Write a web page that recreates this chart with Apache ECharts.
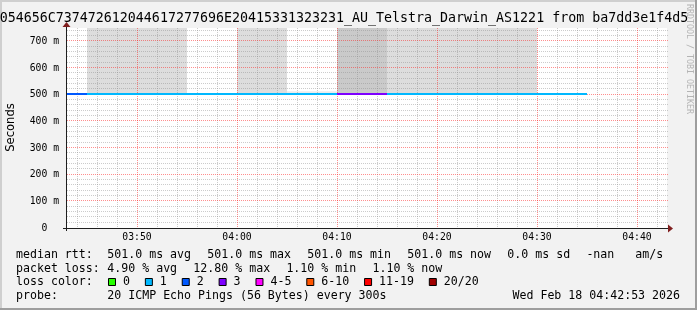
<!DOCTYPE html>
<html>
<head>
<meta charset="utf-8">
<script src="https://cdn.jsdelivr.net/npm/echarts@6/dist/echarts.min.js"></script>
<style>
  html, body { margin: 0; padding: 0; background: #f2f2f2; }
  #chart { width: 697px; height: 310px; }
</style>
</head>
<body>
<div id="chart"></div>
<script>
// 5 minute steps: start time, median rtt (ms), lost pings out of 20
const stepStarts = ['03:40', '03:45', '03:50', '03:55', '04:00', '04:05', '04:10', '04:15', '04:20', '04:25', '04:30']
const medianRtt = [501, 501, 501, 501, 501, 501, 501, 501, 501, 501, 501]
const lostPings = [2, 1, 1, 1, 1, 1, 3, 1, 1, 1, 1]

// smoke bands (ms) and how dense the pings are in them
const smokeFrom = ['03:45', '04:00', '04:05', '04:10', '04:15']
const smokeTo = ['03:55', '04:05', '04:10', '04:15', '04:30']
const smokeLow = [500, 500, 500, 500, 500]
const smokeHigh = [900, 900, 513, 900, 900]
const smokeDensity = [2, 2, 1, 3, 2]

const timeLabels = ['03:50', '04:00', '04:10', '04:20', '04:30', '04:40']

const rttStats = [501.0, 501.0, 501.0, 501.0]
const rttStatNames = ['avg', 'max', 'min', 'now']
const rttSd = 0.0
const lossStats = [4.90, 12.80, 1.10, 1.10]
const lossStatNames = ['avg', 'max', 'min', 'now']
const lossLegend = ['0', '1', '2', '3', '4-5', '6-10', '11-19', '20/20']
const probeText = '20 ICMP Echo Pings (56 Bytes) every 300s'
const stampText = 'Wed Feb 18 04:42:53 2026'
const titleText = '054656C737472612044617277696E20415331323231_AU_Telstra_Darwin_AS1221 from ba7dd3e1f4d5'

const lossColors = ['#26ff00', '#00b8ff', '#0059ff', '#7e00ff', '#ff00ff', '#ff5500', '#ff0000', '#a10000']
const smokeShades = ['#ffffff', '#ececec', '#dddddd', '#cacaca']
const gridColor = 'rgba(143,143,143,0.45)'
const mgridColor = 'rgba(255,30,30,0.5)'
const mono = '"DejaVu Sans Mono", monospace'

const toSec = (s) => {
  const [h, m] = s.split(':').map(Number)
  return h * 3600 + m * 60
}
// one hour, 6 s per pixel
const xMin = toSec('03:43')
const xMax = toSec('04:43')
const yMax = 750

const lossBucket = (n) => (n <= 3 ? n : n <= 5 ? 4 : n <= 10 ? 5 : n <= 19 ? 6 : 7)

const rttData = stepStarts.map((t, i) => [toSec(t), toSec(t) + 300, medianRtt[i], lostPings[i]])
const smokeData = smokeFrom.map((t, i) => [toSec(t), toSec(smokeTo[i]), smokeLow[i], smokeHigh[i], smokeDensity[i]])

// grid: every 2 minutes / 20 ms, red every 10 minutes / 100 ms
const gridLines = []
for (let t = toSec('03:44'); t < xMax; t += 120) gridLines.push({ dir: 'v', v: t, major: t % 600 === 0 })
for (let v = 20; v < yMax; v += 20) gridLines.push({ dir: 'h', v, major: v % 100 === 0 })
const minorLines = gridLines.filter((g) => !g.major)
const majorLines = gridLines.filter((g) => g.major)

const L = 67, T = 28, R = 667, B = 228

const gridSeries = (name, lines, color, z) => ({
  type: 'custom', name, z, silent: true,
  data: lines.map((g) => (g.dir === 'v' ? [g.v, 0] : [xMin, g.v])),
  renderItem: (params, api) => {
    const cs = params.coordSys
    const g = lines[params.dataIndex]
    const p = api.coord([api.value(0), api.value(1)])
    const style = { stroke: color, lineWidth: 1, lineDash: [1, 1] }
    if (g.dir === 'v') {
      const x = Math.round(p[0]) + 0.5
      return { type: 'line', shape: { x1: x, y1: cs.y, x2: x, y2: cs.y + cs.height }, style }
    }
    const y = Math.round(p[1]) - 0.5
    return { type: 'line', shape: { x1: cs.x, y1: y, x2: cs.x + cs.width + 1, y2: y }, style }
  }
})

const txt = (x, y, text, extra) => ({
  type: 'text', x, y, z: 100, silent: true,
  style: Object.assign({ text, fontSize: 11.6, fontFamily: mono, fill: '#000', align: 'left', verticalAlign: 'middle' }, extra || {})
})

const buildLegend = () => {
  const els = []
  const cw = 6.97, gap = 16.36
  const row = (y, label, items) => {
    els.push(txt(16, y, label))
    let x = 107.3
    items.forEach((s) => {
      els.push(txt(x, y, s))
      x += s.length * cw + gap
    })
  }
  row(254.5, 'median rtt:', [
    ...rttStats.map((v, i) => v.toFixed(1) + ' ms ' + rttStatNames[i]),
    rttSd.toFixed(1) + ' ms sd',
    '-nan   am/s'
  ])
  row(268.5, 'packet loss:', lossStats.map((v, i) => v.toFixed(2) + ' % ' + lossStatNames[i]))

  els.push(txt(16, 282.3, 'loss color:'))
  let x = 108.5
  lossLegend.forEach((s, i) => {
    els.push({
      type: 'rect', z: 100, silent: true,
      shape: { x, y: 278.5, width: 7, height: 7 },
      style: { fill: lossColors[i], stroke: '#000', lineWidth: 1 }
    })
    els.push(txt(x + 14.5, 282.3, s))
    x += 14.5 + s.length * cw + 15.4
  })

  els.push(txt(16, 296.3, 'probe:'))
  els.push(txt(107.3, 296.3, probeText))
  els.push(txt(680, 296.3, stampText, { align: 'right' }))
  return els
}

const chart = echarts.init(document.getElementById('chart'), null, { renderer: 'canvas' })

const seconds = txt(10.8, 127.5, 'Seconds', { fontFamily: '"DejaVu Sans", sans-serif', fontSize: 11.6, align: 'center' })
seconds.rotation = Math.PI / 2
const watermark = txt(689, 59, 'RRDTOOL / TOBI OETIKER', { fontSize: 8.3, fill: '#b4b4b4', align: 'center' })
watermark.rotation = -Math.PI / 2

const option = {
  animation: false,
  backgroundColor: '#f2f2f2',
  grid: { left: L, top: T, right: 697 - R, bottom: 310 - B, show: true, backgroundColor: '#ffffff', borderWidth: 0 },
  xAxis: {
    type: 'value', min: xMin, max: xMax,
    axisLine: { show: false }, axisTick: { show: false }, splitLine: { show: false },
    axisLabel: {
      customValues: timeLabels.map(toSec),
      formatter: (v) => {
        const h = Math.floor(v / 3600), m = Math.floor((v % 3600) / 60)
        return String(h).padStart(2, '0') + ':' + String(m).padStart(2, '0')
      },
      fontFamily: mono, fontSize: 9.75, color: '#000', margin: 4
    }
  },
  yAxis: {
    type: 'value', min: 0, max: yMax, interval: 100,
    axisLine: { show: false }, axisTick: { show: false }, splitLine: { show: false },
    axisLabel: {
      formatter: (v) => (v === 0 ? '0  ' : v + ' m'),
      showMaxLabel: false,
      fontFamily: mono, fontSize: 9.75, color: '#000', margin: 8
    }
  },
  series: [
    {
      type: 'custom', name: 'smoke', z: 2, silent: true,
      encode: { x: [0, 1], y: [2, 3] },
      data: smokeData,
      renderItem: (params, api) => {
        const cs = params.coordSys
        const p1 = api.coord([api.value(0), api.value(3)])
        const p2 = api.coord([api.value(1), api.value(2)])
        const x1 = Math.round(p1[0]), x2 = Math.round(p2[0])
        const rect = echarts.graphic.clipRectByRect(
          { x: x1, y: p1[1], width: x2 - x1, height: p2[1] - p1[1] },
          { x: cs.x, y: cs.y, width: cs.width, height: cs.height }
        )
        return rect && { type: 'rect', shape: rect, style: { fill: smokeShades[api.value(4)] } }
      }
    },
    gridSeries('grid', minorLines, gridColor, 3),
    gridSeries('mgrid', majorLines, mgridColor, 4),
    {
      type: 'custom', name: 'median rtt', z: 5, silent: true,
      encode: { x: [0, 1], y: 2 },
      data: rttData,
      renderItem: (params, api) => {
        const cs = params.coordSys
        const p1 = api.coord([api.value(0), api.value(2)])
        const p2 = api.coord([api.value(1), api.value(2)])
        const x1 = Math.max(cs.x, Math.round(p1[0]))
        const x2 = Math.min(cs.x + cs.width, Math.round(p2[0]))
        if (x2 <= x1) return null
        const y = Math.round(p1[1])
        return {
          type: 'line',
          shape: { x1, y1: y, x2, y2: y },
          style: { stroke: lossColors[lossBucket(api.value(3))], lineWidth: 2 }
        }
      }
    }
  ],
  graphic: [
    // frame
    { type: 'rect', z: 90, silent: true, shape: { x: 0, y: 0, width: 697, height: 2 }, style: { fill: '#cfcfcf' } },
    { type: 'rect', z: 90, silent: true, shape: { x: 0, y: 0, width: 2, height: 310 }, style: { fill: '#cfcfcf' } },
    { type: 'rect', z: 90, silent: true, shape: { x: 0, y: 308, width: 697, height: 2 }, style: { fill: '#9e9e9e' } },
    { type: 'rect', z: 90, silent: true, shape: { x: 695, y: 0, width: 2, height: 310 }, style: { fill: '#9e9e9e' } },
    // axes
    { type: 'line', z: 95, silent: true, shape: { x1: 63, y1: B + 0.5, x2: R + 2, y2: B + 0.5 }, style: { stroke: '#1f1f1f', lineWidth: 1 } },
    { type: 'line', z: 95, silent: true, shape: { x1: L - 0.5, y1: B + 3, x2: L - 0.5, y2: T - 1 }, style: { stroke: '#1f1f1f', lineWidth: 1 } },
    { type: 'polygon', z: 96, silent: true, shape: { points: [[R + 1, B - 3.5], [R + 6, B + 0.5], [R + 1, B + 4.5]] }, style: { fill: '#801f1f' } },
    { type: 'polygon', z: 96, silent: true, shape: { points: [[L - 4.5, T - 1], [L - 0.5, T - 6], [L + 3.5, T - 1]] }, style: { fill: '#801f1f' } },
    // texts
    txt(344, 19, titleText, { fontSize: 13.3, align: 'center' }),
    seconds,
    watermark,
    ...buildLegend()
  ]
}

chart.setOption(option)
window.addEventListener('resize', () => chart.resize())
</script>
</body>
</html>
